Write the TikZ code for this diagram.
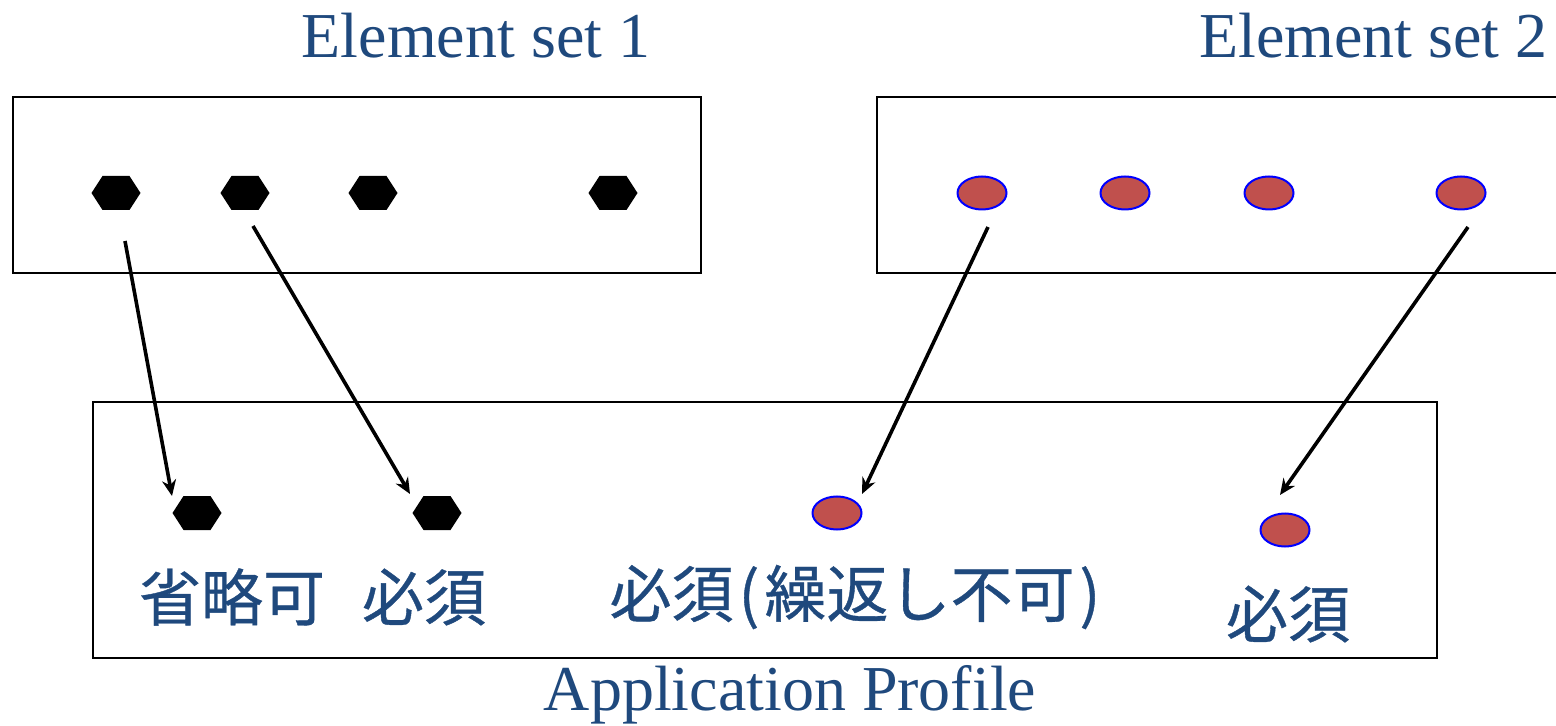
\documentclass[tikz,border=0pt]{standalone}
\usepackage{fontspec}
\setmainfont{Liberation Serif}
\newfontfamily\jpfont[FakeBold=0.6]{Noto Sans CJK JP}
\usetikzlibrary{shapes.geometric,arrows.meta,calc}
\definecolor{titleblue}{HTML}{1F497D}
\definecolor{dotred}{HTML}{C0504D}
\begin{document}
\begin{tikzpicture}[x=0.5pt,y=-0.5pt,
  frame/.style={draw=black,line width=1pt},
  hexa/.style={minimum width=24.5pt,minimum height=17pt,inner sep=0pt,outer sep=0pt,
    path picture={\fill[black] (path picture bounding box.west)
      -- ([xshift=5.5pt]path picture bounding box.north west)
      -- ([xshift=-5.5pt]path picture bounding box.north east)
      -- (path picture bounding box.east)
      -- ([xshift=-5.5pt]path picture bounding box.south east)
      -- ([xshift=5.5pt]path picture bounding box.south west) -- cycle;}},
  dot/.style={ellipse,minimum width=24.5pt,minimum height=16.5pt,inner sep=0pt,
    fill=dotred,draw=blue,line width=1pt},
  title/.style={text=titleblue,font=\fontsize{32}{38}\selectfont,inner sep=0pt},
  jlabel/.style={text=titleblue,font=\jpfont\fontsize{31}{37}\selectfont,inner sep=0pt},
  link/.style={line width=1.8pt,-{Stealth[length=8pt,width=7pt]}}]
\useasboundingbox (0,0) rectangle (1556,726);

% headings
\node[title,anchor=base] (t1) at (476,58) {Element set 1};
\node[title,anchor=base east] (t2) at (1548,58) {Element set 2};
\node[title,anchor=base] (t3) at (790,710) {Application Profile};

% element set frames
\draw[frame] (13,97) rectangle (701,273);
\draw[frame] (1556,97) -- (877,97) -- (877,273) -- (1556,273);
% application profile frame
\draw[frame] (93,402) rectangle (1437,658);

% element set 1
\node[hexa] (a1) at (116,193) {};
\node[hexa] (a2) at (245,193) {};
\node[hexa] (a3) at (373,193) {};
\node[hexa] (a4) at (613,193) {};
% element set 2
\node[dot] (b1) at (982,193) {};
\node[dot] (b2) at (1125,193) {};
\node[dot] (b3) at (1269,193) {};
\node[dot] (b4) at (1461,193) {};

% profile elements
\node[hexa] (p1) at (197,513) {};
\node[hexa] (p2) at (437,513) {};
\node[dot] (p3) at (837,513) {};
\node[dot] (p4) at (1285,530) {};

% labels
\node[jlabel] (l1) at (232,597) {省略可};
\node[jlabel] (l2) at (424,597) {必須};
\node[jlabel] (l3) at (855,597) {必須\hspace{2.5pt}(\hspace{2.5pt}繰返し不可\hspace{2.5pt})};
\node[jlabel] (l4) at (1288,614) {必須};

% connector ends
\coordinate (s1) at ($(a1)+(9,48)$);
\coordinate (e1) at ($(p1)+(-25,-17)$);
\coordinate (s2) at ($(a2)+(8,33)$);
\coordinate (e2) at ($(p2)+(-27,-19)$);
\coordinate (s3) at ($(b1)+(6,34)$);
\coordinate (e3) at ($(p3)+(25,-19)$);
\coordinate (s4) at ($(b4)+(7,34)$);
\coordinate (e4) at ($(p4)+(-5,-35)$);

\draw[link] (s1) -- (e1);
\draw[link] (s2) -- (e2);
\draw[link] (s3) -- (e3);
\draw[link] (s4) -- (e4);
\end{tikzpicture}
\end{document}
